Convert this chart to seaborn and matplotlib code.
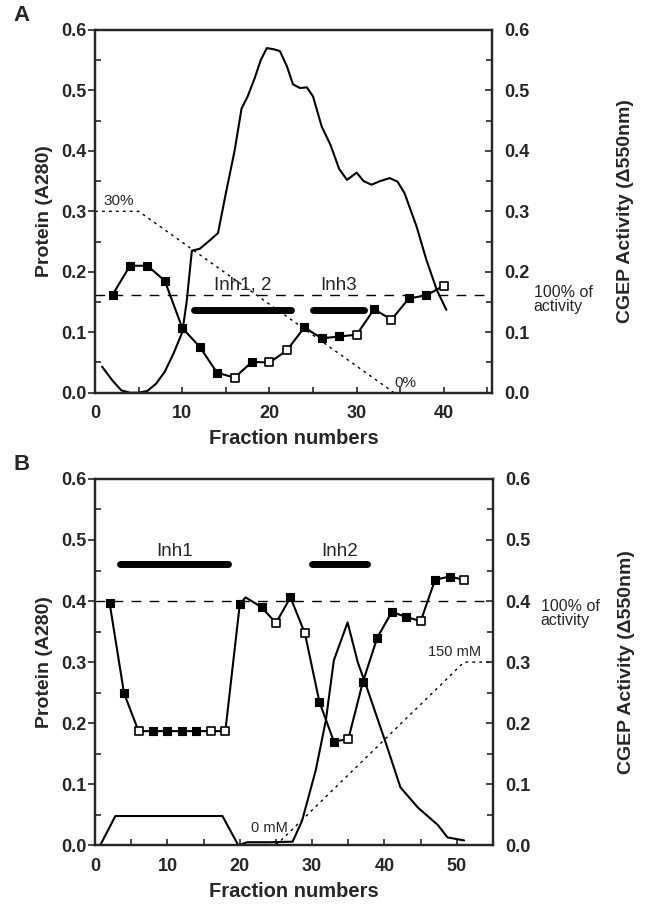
import matplotlib
matplotlib.use("Agg")
import matplotlib.pyplot as plt
import seaborn as sns
import pandas as pd
from matplotlib.ticker import MultipleLocator

sns.set_style("ticks")
plt.rcParams['font.family'] = ['Liberation Sans', 'DejaVu Sans']

# ---- panel A data ----
protA_x = [0.8, 2, 3, 4, 5, 6, 7, 8, 9, 10, 10.5, 11.1, 12, 13, 14.1, 15, 16, 16.8, 17.5,
           18.3, 19, 19.7, 20.5, 21.2, 22, 22.7, 23.5, 24.3, 25, 26, 27, 28, 28.9, 30,
           30.8, 31.7, 32.7, 33.8, 34.7, 35.5, 36.9, 38, 39.2, 40.3]
protA_y = [0.043, 0.02, 0.004, 0.0, 0.0, 0.003, 0.015, 0.035, 0.065, 0.1, 0.15, 0.235, 0.238,
           0.25, 0.264, 0.33, 0.4, 0.47, 0.49, 0.52, 0.55, 0.57, 0.568, 0.565, 0.54, 0.51,
           0.504, 0.505, 0.49, 0.44, 0.41, 0.37, 0.352, 0.364, 0.35, 0.344, 0.35, 0.355,
           0.349, 0.33, 0.274, 0.22, 0.17, 0.137]
actA_x = [2, 4, 6, 8, 10, 12, 14, 16, 18, 20, 22, 24, 26, 28, 30, 32, 34, 36, 38, 40]
actA_y = [0.162, 0.21, 0.21, 0.185, 0.107, 0.076, 0.033, 0.025, 0.051, 0.05, 0.07, 0.108,
          0.09, 0.093, 0.096, 0.138, 0.121, 0.156, 0.161, 0.177]
actA_m = ['f', 'f', 'f', 'f', 'f', 'f', 'f', 'o', 'f', 'o', 'o', 'f', 'f', 'f', 'o', 'f',
          'o', 'f', 'f', 'o']
gradA_x = [0, 5, 34.3]
gradA_y = [0.3, 0.3, 0.0]
barsA = [("Inh1, 2", 11.3, 22.5), ("Inh3", 25.0, 30.9)]

# ---- panel B data ----
protB_x = [0.7, 2.8, 10, 17.6, 19.8, 21, 24, 27.3, 28.6, 30.5, 31.9, 33, 34.9, 36.3, 37.8,
           40.2, 42.2, 44.6, 47.4, 48.7, 51]
protB_y = [0.0, 0.048, 0.048, 0.048, 0.0, 0.005, 0.005, 0.006, 0.04, 0.123, 0.205, 0.303,
           0.365, 0.30, 0.25, 0.167, 0.095, 0.062, 0.033, 0.013, 0.008]
actB_x = [2, 4, 6, 8, 10, 12, 14, 16, 18, 20, 20.8, 23, 25, 27, 29, 31, 33, 35, 37, 39, 41,
          43, 45, 47, 49, 51]
actB_y = [0.397, 0.249, 0.187, 0.187, 0.187, 0.187, 0.187, 0.187, 0.187, 0.395, 0.406, 0.39,
          0.364, 0.406, 0.347, 0.235, 0.17, 0.174, 0.267, 0.34, 0.382, 0.374, 0.367, 0.435,
          0.44, 0.435]
actB_m = ['f', 'f', 'o', 'f', 'f', 'f', 'f', 'o', 'o', 'f', '', 'f', 'o', 'f', 'o', 'f', 'f',
          'o', 'f', 'f', 'f', 'f', 'o', 'f', 'f', 'o']
gradB_x = [25, 51, 55]
gradB_y = [0.0, 0.3, 0.3]
barsB = [("Inh1", 3.5, 18.4), ("Inh2", 30.0, 37.6)]

fig = plt.figure(figsize=(6.47, 9.07), dpi=100)
axA = fig.add_axes([0.147, 0.567, 0.613, 0.400])
axB = fig.add_axes([0.147, 0.068, 0.615, 0.404])

fmt = plt.FuncFormatter(lambda v, p: f"{v:.1f}")


def draw_panel(ax, px, py, ax_x, ax_y, am, gx, gy, bars, bar_y, lab_y, ref, xmax, letter):
    sns.lineplot(x=px, y=py, ax=ax, color='black', lw=1.5, sort=False)
    sns.lineplot(x=ax_x, y=ax_y, ax=ax, color='black', lw=1.5, sort=False)
    sns.lineplot(x=gx, y=gy, ax=ax, color='black', lw=1.0, linestyle=(0, (2, 3)), sort=False)
    ax.axhline(ref, color='black', lw=1.0, linestyle=(0, (7, 6)))
    df = pd.DataFrame({'x': ax_x, 'y': ax_y, 'm': am})
    sns.scatterplot(data=df[df.m == 'f'], x='x', y='y', ax=ax, marker='s', s=26,
                    color='black', edgecolor='black', linewidth=0.8, zorder=5)
    sns.scatterplot(data=df[df.m == 'o'], x='x', y='y', ax=ax, marker='s', s=28,
                    color='white', edgecolor='black', linewidth=1.2, zorder=5)
    for name, x0, x1 in bars:
        ax.plot([x0, x1], [bar_y, bar_y], color='black', lw=5, solid_capstyle='round')
        ax.text((x0 + x1) / 2, lab_y, name, ha='center', va='baseline', fontsize=13.5)
    ax.set_xlim(0, xmax)
    ax.set_ylim(0, 0.6)
    ax.yaxis.set_major_locator(MultipleLocator(0.1))
    ax.yaxis.set_minor_locator(MultipleLocator(0.05))
    ax.xaxis.set_major_locator(MultipleLocator(10))
    ax.xaxis.set_minor_locator(MultipleLocator(5))
    ax.yaxis.set_major_formatter(fmt)
    ax.tick_params(axis='y', which='major', labelsize=13, width=1.2, length=5, pad=1)
    ax.tick_params(axis='y', which='minor', direction='in', length=4, width=1.2)
    ax.tick_params(axis='x', which='both', direction='in', length=4, width=1.2)
    ax.tick_params(axis='x', which='major', labelsize=13, pad=9)
    for lab in ax.get_xticklabels() + ax.get_yticklabels():
        lab.set_fontweight('bold')
    for sp in ax.spines.values():
        sp.set_linewidth(1.6)
    ax.set_xlabel("Fraction numbers", fontsize=14.5, fontweight='bold', labelpad=5)
    ax.set_ylabel("Protein (A280)", fontsize=14, fontweight='bold', labelpad=6)
    tw = ax.twinx()
    tw.set_ylim(0, 0.6)
    tw.yaxis.set_major_locator(MultipleLocator(0.1))
    tw.yaxis.set_minor_locator(MultipleLocator(0.05))
    tw.yaxis.set_major_formatter(fmt)
    tw.tick_params(axis='y', which='major', labelsize=13, direction='in', length=5,
                   width=1.2, pad=9)
    tw.tick_params(axis='y', which='minor', direction='in', length=4, width=1.2)
    for lab in tw.get_yticklabels():
        lab.set_fontweight('bold')
    tw.set_ylabel("CGEP Activity (\u0394550nm)", fontsize=14, fontweight='bold', labelpad=63)
    for sp in tw.spines.values():
        sp.set_linewidth(1.6)
    ax.text(-0.205, 1.01, letter, transform=ax.transAxes, fontsize=16, fontweight='bold',
            ha='left', va='bottom')
    return tw


draw_panel(axA, protA_x, protA_y, actA_x, actA_y, actA_m, gradA_x, gradA_y, barsA, 0.137,
           0.17, 0.162, 45.5, "A")
axA.text(1.0, 0.305, "30%", fontsize=11, ha='left', va='bottom')
axA.text(34.3, 0.004, "0%", fontsize=11, ha='left', va='bottom')
axA.text(50.3, 0.154, "100% of\nactivity", fontsize=11.5, ha='left', va='center',
         clip_on=False, linespacing=0.95)

draw_panel(axB, protB_x, protB_y, actB_x, actB_y, actB_m, gradB_x, gradB_y, barsB, 0.461,
           0.473, 0.4, 55, "B")
axB.text(21.5, 0.028, "0 mM", fontsize=10.5, ha='left', va='center')
axB.text(46.0, 0.316, "150 mM", fontsize=10.5, ha='left', va='center')
axB.text(61.6, 0.38, "100% of\nactivity", fontsize=11.5, ha='left', va='center',
         clip_on=False, linespacing=0.95)

fig.savefig("out.png", dpi=100)
